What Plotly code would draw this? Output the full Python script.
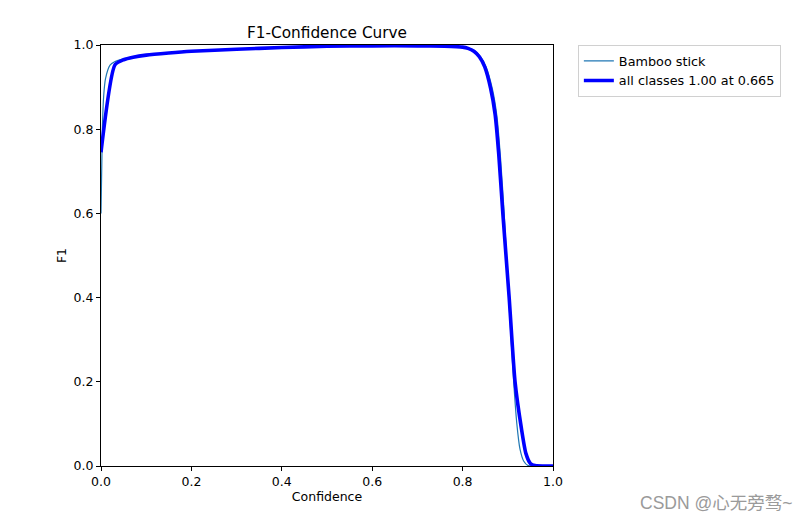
import plotly.graph_objects as go

title = "F1-Confidence Curve"
x_label = "Confidence"
y_label = "F1"
tick_vals = [0.0, 0.2, 0.4, 0.6, 0.8, 1.0]

bamboo_name = "Bamboo stick"
bamboo_x = [0.0, 0.003, 0.006, 0.01, 0.02, 0.03, 0.05, 0.1, 0.15, 0.2, 0.3, 0.4, 0.5, 0.6, 0.7, 0.76, 0.8, 0.815,
            0.828, 0.84, 0.852, 0.866, 0.876, 0.884, 0.892, 0.902, 0.913, 0.92, 0.927, 0.935, 0.945, 0.96, 1.0]
bamboo_y = [0.60, 0.80, 0.88, 0.92, 0.952, 0.96, 0.967, 0.976, 0.981, 0.985, 0.99, 0.994, 0.997, 0.998, 0.998, 0.997, 0.995, 0.992,
            0.985, 0.972, 0.948, 0.895, 0.83, 0.73, 0.60, 0.40, 0.20, 0.10, 0.04, 0.012, 0.001, 0.0, 0.0]

all_name = "all classes 1.00 at 0.665"
all_x = [0.0, 0.031, 0.05, 0.071, 0.1, 0.15, 0.2, 0.3, 0.4, 0.5, 0.6, 0.7, 0.76, 0.8, 0.812,
         0.825, 0.837, 0.849, 0.862, 0.872, 0.88, 0.889, 0.903, 0.916, 0.93, 0.94, 0.95, 0.96, 1.0]
all_y = [0.745, 0.953, 0.965, 0.971, 0.976, 0.981, 0.985, 0.99, 0.994, 0.997, 0.998, 0.998, 0.997, 0.995, 0.992,
         0.985, 0.972, 0.948, 0.897, 0.835, 0.74, 0.60, 0.40, 0.20, 0.09, 0.03, 0.006, 0.001, 0.0]

watermark = "CSDN @心无旁骛~"

fig = go.Figure()
fig.add_trace(go.Scatter(x=bamboo_x, y=bamboo_y, name=bamboo_name, mode="lines",
                         line=dict(color="#1f77b4", width=1.2, shape="spline", smoothing=0.6)))
fig.add_trace(go.Scatter(x=all_x, y=all_y, name=all_name, mode="lines",
                         line=dict(color="#0000ff", width=3.6, shape="spline", smoothing=0.6)))

axis_common = dict(range=[0, 1], tickvals=tick_vals, tickformat=".1f", showgrid=False, zeroline=False,
                   showline=True, linecolor="black", linewidth=1, mirror=True, ticks="outside",
                   ticklen=4, tickcolor="black", tickfont=dict(size=12.5, color="black"))
fig.update_layout(
    width=809, height=523,
    margin=dict(l=101, r=256, t=45, b=57),
    paper_bgcolor="white", plot_bgcolor="white",
    font=dict(family="DejaVu Sans", color="black"),
    title=dict(text=title, x=327 / 809, xanchor="center", y=1 - 33 / 523, yanchor="middle",
               font=dict(size=15.3, color="black")),
    xaxis=dict(title=dict(text=x_label, font=dict(size=12.5), standoff=4), **axis_common),
    yaxis=dict(title=dict(text=y_label, font=dict(size=12.5), standoff=4), **axis_common),
    legend=dict(x=1.055, y=1.0, xanchor="left", yanchor="top", bgcolor="white",
                bordercolor="#d0d0d0", borderwidth=1, font=dict(size=12.8), tracegroupgap=0),
    showlegend=True,
)
fig.add_annotation(text=watermark, xref="paper", yref="paper", x=1.534, y=-0.088,
                   xanchor="right", yanchor="middle", showarrow=False,
                   font=dict(size=17.5, color="#9a9a9a", family="Liberation Sans, Noto Sans CJK SC"))
fig.write_html("out.html")
